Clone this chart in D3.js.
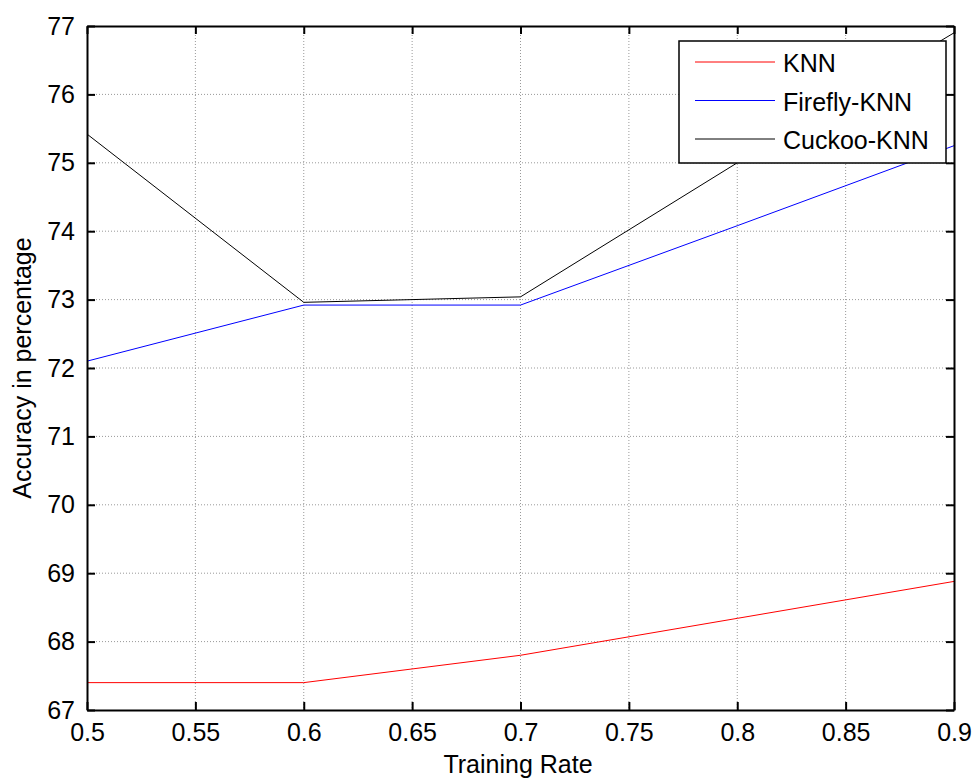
<!DOCTYPE html>
<html>
<head>
<meta charset="utf-8">
<script src="https://cdn.jsdelivr.net/npm/d3@7"></script>
<style>
  body { margin: 0; background: #fff; }
  svg { display: block; font-family: "Liberation Sans", Arial, sans-serif; }
</style>
</head>
<body>
<svg id="chart" width="976" height="781"></svg>
<script>
const rates = [0.5, 0.6, 0.7, 0.8, 0.9];
const knn = [67.4, 67.4, 67.8, 68.34, 68.88];
const fireflyKnn = [72.1, 72.92, 72.92, 74.08, 75.25];
const cuckooKnn = [75.42, 72.96, 73.04, 75.0, 76.9];
const xTicks = [0.5, 0.55, 0.6, 0.65, 0.7, 0.75, 0.8, 0.85, 0.9];
const yTicks = [67, 68, 69, 70, 71, 72, 73, 74, 75, 76, 77];
const seriesNames = ["KNN", "Firefly-KNN", "Cuckoo-KNN"];
const seriesColors = ["#ff0000", "#0000ff", "#000000"];

const svg = d3.select("#chart");
const margin = { top: 26, right: 22, bottom: 71, left: 87 };
const width = 976 - margin.left - margin.right;
const height = 781 - margin.top - margin.bottom;

const chart = svg.append("g")
    .attr("transform", `translate(${margin.left},${margin.top})`);

const x = d3.scaleLinear().domain([0.5, 0.9]).range([0, width]);
const y = d3.scaleLinear().domain([67, 77]).range([height, 0]);

// grid
chart.append("g").selectAll("line")
    .data(xTicks.slice(1, -1))
    .join("line")
    .attr("x1", d => x(d)).attr("x2", d => x(d))
    .attr("y1", 0).attr("y2", height)
    .attr("stroke", "#999").attr("stroke-dasharray", "1,2");
chart.append("g").selectAll("line")
    .data(yTicks.slice(1, -1))
    .join("line")
    .attr("y1", d => y(d)).attr("y2", d => y(d))
    .attr("x1", 0).attr("x2", width)
    .attr("stroke", "#999").attr("stroke-dasharray", "1,2");

// series
const data = [knn, fireflyKnn, cuckooKnn];
const line = d3.line()
    .x((d, i) => x(rates[i]))
    .y(d => y(d));
chart.append("clipPath").attr("id", "clip")
    .append("rect").attr("width", width).attr("height", height);
chart.append("g").attr("clip-path", "url(#clip)")
    .selectAll("path")
    .data(data)
    .join("path")
    .attr("d", line)
    .attr("fill", "none")
    .attr("stroke", (d, i) => seriesColors[i])
    .attr("stroke-width", 1);

// axes
chart.append("g")
    .attr("transform", `translate(0,${height})`)
    .call(d3.axisBottom(x).tickValues(xTicks).tickFormat(d3.format("")).tickSizeInner(-8).tickSizeOuter(0).tickPadding(13));
chart.append("g")
    .call(d3.axisLeft(y).tickValues(yTicks).tickFormat(d3.format("d")).tickSizeInner(-8).tickSizeOuter(0).tickPadding(12));
chart.append("g")
    .call(d3.axisTop(x).tickValues(xTicks).tickFormat("").tickSizeInner(-8).tickSizeOuter(0));
chart.append("g")
    .attr("transform", `translate(${width},0)`)
    .call(d3.axisRight(y).tickValues(yTicks).tickFormat("").tickSizeInner(-8).tickSizeOuter(0));

chart.selectAll(".domain").attr("stroke", "#000").attr("stroke-width", 2);
chart.selectAll(".tick line").attr("stroke", "#000").attr("stroke-width", 2);
chart.selectAll(".tick text")
    .attr("font-size", 25)
    .attr("font-family", "Liberation Sans, Arial, sans-serif")
    .attr("fill", "#000");

// axis titles
svg.append("text")
    .attr("x", 518)
    .attr("y", 773)
    .attr("text-anchor", "middle")
    .attr("font-size", 25)
    .text("Training Rate");
svg.append("text")
    .attr("transform", `translate(31,${margin.top + height / 2}) rotate(-90)`)
    .attr("text-anchor", "middle")
    .attr("font-size", 25)
    .text("Accuracy in percentage");

// legend
const legend = svg.append("g").attr("transform", "translate(679,41)");
legend.append("rect")
    .attr("width", 267).attr("height", 122)
    .attr("fill", "#fff").attr("stroke", "#000").attr("stroke-width", 1.5);
const items = legend.selectAll("g.item")
    .data(seriesNames)
    .join("g")
    .attr("class", "item")
    .attr("transform", (d, i) => `translate(0,${21 + i * 38.5})`);
items.append("line")
    .attr("x1", 16).attr("x2", 96)
    .attr("stroke", (d, i) => seriesColors[i]).attr("stroke-width", 1);
items.append("text")
    .attr("x", 104).attr("y", 10)
    .attr("font-size", 25)
    .text(d => d);
</script>
</body>
</html>
